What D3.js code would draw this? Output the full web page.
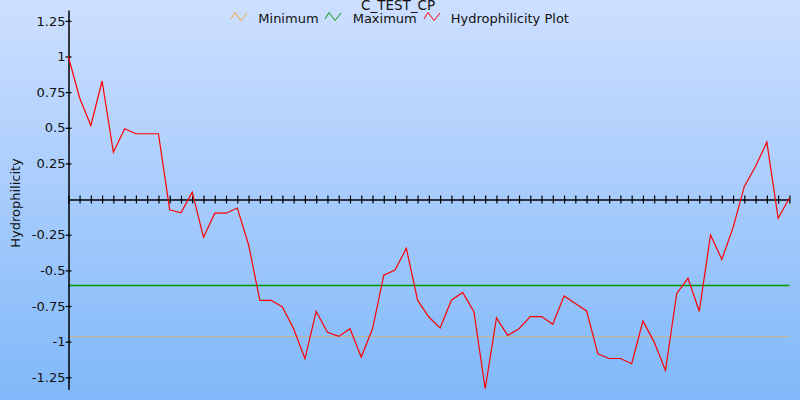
<!DOCTYPE html>
<html><head><meta charset="utf-8">
<script src="https://cdn.jsdelivr.net/npm/d3@7"></script>
<style>html,body{margin:0;padding:0;overflow:hidden;}svg{display:block;font-family:"DejaVu Sans",Verdana,sans-serif;}</style>
</head><body>
<svg id="chart" width="800" height="400"></svg>
<script>
const title = "C_TEST_CP";
const yLabel = "Hydrophilicity";
const seriesNames = ["Minimum", "Maximum", "Hydrophilicity Plot"];
const seriesColors = ["#f5a623", "#009a00", "#ff0000"];
const positions = d3.range(0, 65);
const hydro = [1.0, 0.711, 0.516, 0.828, 0.328, 0.493, 0.458, 0.458, 0.458,
  -0.075, -0.096, 0.049, -0.268, -0.099, -0.099, -0.063,
  -0.32, -0.71, -0.71, -0.756, -0.91, -1.12, -0.787, -0.934, -0.963, -0.909, -1.108, -0.91,
  -0.533, -0.498, -0.345, -0.709, -0.827, -0.904, -0.709, -0.655, -0.79, -1.33, -0.834, -0.956,
  -0.909, -0.824, -0.824, -0.878, -0.679, -0.733, -0.784, -1.085, -1.118, -1.118, -1.155, -0.855, -1.003, -1.202,
  -0.662, -0.556, -0.787, -0.252, -0.423, -0.2, 0.089, 0.23, 0.399, -0.134, 0.007];
const minimumValue = -0.958;
const maximumValue = -0.6;
const yTicks = [-1.25, -1, -0.75, -0.5, -0.25, 0.25, 0.5, 0.75, 1, 1.25];

const svg = d3.select("#chart");
const defs = svg.append("defs");
const grad = defs.append("linearGradient").attr("id", "bg").attr("x1", 0).attr("y1", 0).attr("x2", 0).attr("y2", 1);
grad.append("stop").attr("offset", "0%").attr("stop-color", "#cddfff");
grad.append("stop").attr("offset", "100%").attr("stop-color", "#80b8f9");
svg.append("rect").attr("width", 800).attr("height", 400).attr("fill", "url(#bg)");

const x = d3.scaleLinear().domain([0, 64]).range([68.3, 789.4]);
const y = d3.scaleLinear().domain([-1.334, 1.326]).range([389.3, 10]);

// reference lines
const refs = [{v: minimumValue, c: seriesColors[0], o: 0.5, w: 1}, {v: maximumValue, c: seriesColors[1], o: 1, w: 1.5}];
svg.selectAll("line.ref").data(refs).enter().append("line").attr("class", "ref")
  .attr("x1", x(0)).attr("x2", x(64))
  .attr("y1", d => Math.round(y(d.v)) + 0.5).attr("y2", d => Math.round(y(d.v)) + 0.5)
  .attr("stroke", d => d.c).attr("stroke-opacity", d => d.o).attr("stroke-width", d => d.w);

// x axis at zero
const xAxis = d3.axisBottom(x).tickValues(positions).tickFormat("").tickSizeOuter(0);
const gx = svg.append("g").attr("transform", `translate(0,${Math.round(y(0)) + 0.5})`).call(xAxis);
gx.select(".domain").attr("stroke", "#000").attr("stroke-width", 1.5);
gx.selectAll(".tick line").attr("y1", -4).attr("y2", 4).attr("stroke", "#000").attr("stroke-width", 1.2);

// y axis
const yAxis = d3.axisLeft(y).tickValues(yTicks).tickFormat(d => String(d)).tickSizeOuter(0);
const gy = svg.append("g").attr("transform", `translate(${Math.round(x(0)) + 0.5},0)`).call(yAxis);
gy.select(".domain").attr("stroke", "#000").attr("stroke-width", 1.5);
gy.selectAll(".tick line").attr("x1", -3).attr("x2", 3).attr("stroke", "#000").attr("stroke-width", 1.2);
gy.selectAll(".tick text").attr("x", -3).attr("font-size", 13).attr("fill", "#111")
  .attr("font-family", "DejaVu Sans");

// data line
const line = d3.line().x((d, i) => x(positions[i])).y(d => y(d));
svg.append("path").datum(hydro).attr("d", line).attr("fill", "none")
  .attr("stroke", seriesColors[2]).attr("stroke-width", 1.2);

// title
svg.append("text").attr("x", 398).attr("y", 10).attr("text-anchor", "middle")
  .attr("font-size", 13.5).attr("fill", "#111").text(title);

// legend
const legX = [231, 325, 424];
const legTextX = [258.3, 352.7, 450.7];
const leg = svg.selectAll("g.leg").data(seriesNames).enter().append("g").attr("class", "leg");
leg.append("path")
  .attr("d", (d, i) => d3.line()([[legX[i], 19], [legX[i] + 4, 12.5], [legX[i] + 10, 20.5], [legX[i] + 16, 13]]))
  .attr("fill", "none").attr("stroke", (d, i) => seriesColors[i]).attr("stroke-width", 1);
leg.append("text").attr("x", (d, i) => legTextX[i]).attr("y", 22.7)
  .attr("font-size", 13).attr("fill", "#111").text(d => d);

// y label
svg.append("text").attr("transform", "translate(19.5,203) rotate(-90)").attr("text-anchor", "middle")
  .attr("font-size", 13).attr("fill", "#111").text(yLabel);
</script>
</body></html>
